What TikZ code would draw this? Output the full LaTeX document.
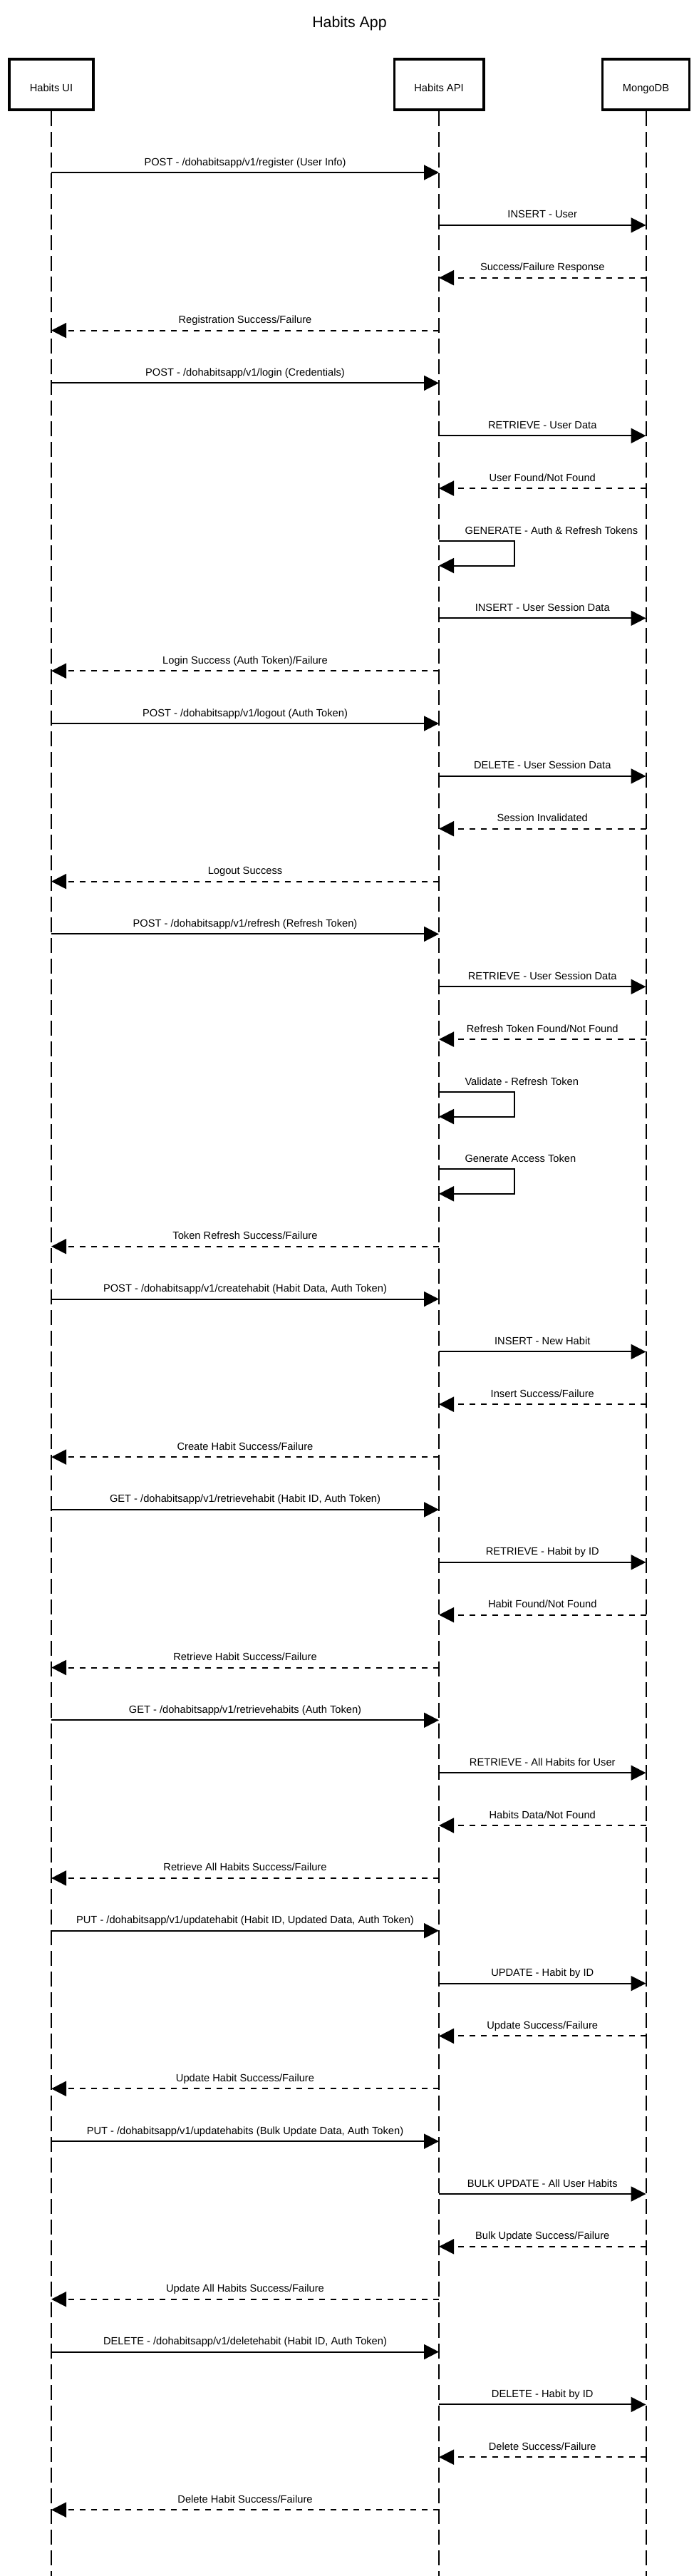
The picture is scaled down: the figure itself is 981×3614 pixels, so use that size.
\documentclass[tikz,border=0pt]{standalone}
\usepackage{fontspec}
\setmainfont{Liberation Sans}
\usetikzlibrary{arrows.meta}
\begin{document}
\begin{tikzpicture}[x=1pt, y=-1pt, every node/.style={font=\fontsize{14.67}{17}\selectfont, inner sep=0pt},
    actor/.style={draw, line width=3.8pt, minimum height=71.6pt, text height=19.5pt, text depth=0pt},
    life/.style={line width=2pt, dash pattern=on 20.7pt off 8.3pt},
    call/.style={line width=2pt, -{Triangle[length=21pt,width=21pt]}},
    reply/.style={call, dash pattern=on 8pt off 8pt},
    lbl/.style={midway, anchor=base, yshift=10pt},
    slbl/.style={anchor=base west, xshift=35.5pt, yshift=10pt}]
  \useasboundingbox (0,0) rectangle (981,3614);
  \node (title) at (490.5,33.3) {\fontsize{21.33}{25}\selectfont Habits App};
  \node[actor, minimum width=118.2pt] (ui) at (72,118.5) {Habits UI};
  \node[actor, minimum width=125.2pt] (api) at (616,118.5) {Habits API};
  \node[actor, minimum width=121.9pt] (db) at (906.5,118.5) {MongoDB};
  \coordinate (uiEnd) at (72,3614);
  \coordinate (apiEnd) at (616,3614);
  \coordinate (dbEnd) at (906.5,3614);
  \draw[life] (ui) -- (uiEnd);
  \draw[life] (api) -- (apiEnd);
  \draw[life] (db) -- (dbEnd);

  \coordinate (m1) at (0,242.0);
  \coordinate (m2) at (0,315.9);
  \coordinate (m3) at (0,389.7);
  \coordinate (m4) at (0,463.6);
  \coordinate (m5) at (0,537.4);
  \coordinate (m6) at (0,611.3);
  \coordinate (m7) at (0,685.1);
  \coordinate (m8) at (0,759.0);
  \coordinate (m8b) at (0,793.5);
  \coordinate (m9) at (0,867.3);
  \coordinate (m10) at (0,941.2);
  \coordinate (m11) at (0,1015.0);
  \coordinate (m12) at (0,1088.9);
  \coordinate (m13) at (0,1162.7);
  \coordinate (m14) at (0,1236.6);
  \coordinate (m15) at (0,1310.4);
  \coordinate (m16) at (0,1384.3);
  \coordinate (m17) at (0,1458.1);
  \coordinate (m18) at (0,1532.0);
  \coordinate (m18b) at (0,1566.5);
  \coordinate (m19) at (0,1640.3);
  \coordinate (m19b) at (0,1674.8);
  \coordinate (m20) at (0,1748.7);
  \coordinate (m21) at (0,1822.5);
  \coordinate (m22) at (0,1896.4);
  \coordinate (m23) at (0,1970.2);
  \coordinate (m24) at (0,2044.1);
  \coordinate (m25) at (0,2117.9);
  \coordinate (m26) at (0,2191.8);
  \coordinate (m27) at (0,2265.6);
  \coordinate (m28) at (0,2339.5);
  \coordinate (m29) at (0,2413.3);
  \coordinate (m30) at (0,2487.2);
  \coordinate (m31) at (0,2561.0);
  \coordinate (m32) at (0,2634.9);
  \coordinate (m33) at (0,2708.7);
  \coordinate (m34) at (0,2782.6);
  \coordinate (m35) at (0,2856.4);
  \coordinate (m36) at (0,2930.3);
  \coordinate (m37) at (0,3004.1);
  \coordinate (m38) at (0,3078.0);
  \coordinate (m39) at (0,3151.8);
  \coordinate (m40) at (0,3225.7);
  \coordinate (m41) at (0,3299.5);
  \coordinate (m42) at (0,3373.4);
  \coordinate (m43) at (0,3447.2);
  \coordinate (m44) at (0,3521.1);

  \draw[call] (ui |- m1) -- (api |- m1) node[lbl] {POST - /dohabitsapp/v1/register (User Info)};
  \draw[call] (api |- m2) -- (db |- m2) node[lbl] {INSERT - User};
  \draw[reply] (db |- m3) -- (api |- m3) node[lbl] {Success/Failure Response};
  \draw[reply] (api |- m4) -- (ui |- m4) node[lbl] {Registration Success/Failure};
  \draw[call] (ui |- m5) -- (api |- m5) node[lbl] {POST - /dohabitsapp/v1/login (Credentials)};
  \draw[call] (api |- m6) -- (db |- m6) node[lbl] {RETRIEVE - User Data};
  \draw[reply] (db |- m7) -- (api |- m7) node[lbl] {User Found/Not Found};
  \draw[call] (api |- m8) node[slbl] {GENERATE - Auth \& Refresh Tokens} -- ++(106,0) |- (api |- m8b);
  \draw[call] (api |- m9) -- (db |- m9) node[lbl] {INSERT - User Session Data};
  \draw[reply] (api |- m10) -- (ui |- m10) node[lbl] {Login Success (Auth Token)/Failure};
  \draw[call] (ui |- m11) -- (api |- m11) node[lbl] {POST - /dohabitsapp/v1/logout (Auth Token)};
  \draw[call] (api |- m12) -- (db |- m12) node[lbl] {DELETE - User Session Data};
  \draw[reply] (db |- m13) -- (api |- m13) node[lbl] {Session Invalidated};
  \draw[reply] (api |- m14) -- (ui |- m14) node[lbl] {Logout Success};
  \draw[call] (ui |- m15) -- (api |- m15) node[lbl] {POST - /dohabitsapp/v1/refresh (Refresh Token)};
  \draw[call] (api |- m16) -- (db |- m16) node[lbl] {RETRIEVE - User Session Data};
  \draw[reply] (db |- m17) -- (api |- m17) node[lbl] {Refresh Token Found/Not Found};
  \draw[call] (api |- m18) node[slbl] {Validate - Refresh Token} -- ++(106,0) |- (api |- m18b);
  \draw[call] (api |- m19) node[slbl] {Generate Access Token} -- ++(106,0) |- (api |- m19b);
  \draw[reply] (api |- m20) -- (ui |- m20) node[lbl] {Token Refresh Success/Failure};
  \draw[call] (ui |- m21) -- (api |- m21) node[lbl] {POST - /dohabitsapp/v1/createhabit (Habit Data, Auth Token)};
  \draw[call] (api |- m22) -- (db |- m22) node[lbl] {INSERT - New Habit};
  \draw[reply] (db |- m23) -- (api |- m23) node[lbl] {Insert Success/Failure};
  \draw[reply] (api |- m24) -- (ui |- m24) node[lbl] {Create Habit Success/Failure};
  \draw[call] (ui |- m25) -- (api |- m25) node[lbl] {GET - /dohabitsapp/v1/retrievehabit (Habit ID, Auth Token)};
  \draw[call] (api |- m26) -- (db |- m26) node[lbl] {RETRIEVE - Habit by ID};
  \draw[reply] (db |- m27) -- (api |- m27) node[lbl] {Habit Found/Not Found};
  \draw[reply] (api |- m28) -- (ui |- m28) node[lbl] {Retrieve Habit Success/Failure};
  \draw[call] (ui |- m29) -- (api |- m29) node[lbl] {GET - /dohabitsapp/v1/retrievehabits (Auth Token)};
  \draw[call] (api |- m30) -- (db |- m30) node[lbl] {RETRIEVE - All Habits for User};
  \draw[reply] (db |- m31) -- (api |- m31) node[lbl] {Habits Data/Not Found};
  \draw[reply] (api |- m32) -- (ui |- m32) node[lbl] {Retrieve All Habits Success/Failure};
  \draw[call] (ui |- m33) -- (api |- m33) node[lbl] {PUT - /dohabitsapp/v1/updatehabit (Habit ID, Updated Data, Auth Token)};
  \draw[call] (api |- m34) -- (db |- m34) node[lbl] {UPDATE - Habit by ID};
  \draw[reply] (db |- m35) -- (api |- m35) node[lbl] {Update Success/Failure};
  \draw[reply] (api |- m36) -- (ui |- m36) node[lbl] {Update Habit Success/Failure};
  \draw[call] (ui |- m37) -- (api |- m37) node[lbl] {PUT - /dohabitsapp/v1/updatehabits (Bulk Update Data, Auth Token)};
  \draw[call] (api |- m38) -- (db |- m38) node[lbl] {BULK UPDATE - All User Habits};
  \draw[reply] (db |- m39) -- (api |- m39) node[lbl] {Bulk Update Success/Failure};
  \draw[reply] (api |- m40) -- (ui |- m40) node[lbl] {Update All Habits Success/Failure};
  \draw[call] (ui |- m41) -- (api |- m41) node[lbl] {DELETE - /dohabitsapp/v1/deletehabit (Habit ID, Auth Token)};
  \draw[call] (api |- m42) -- (db |- m42) node[lbl] {DELETE - Habit by ID};
  \draw[reply] (db |- m43) -- (api |- m43) node[lbl] {Delete Success/Failure};
  \draw[reply] (api |- m44) -- (ui |- m44) node[lbl] {Delete Habit Success/Failure};
\end{tikzpicture}
\end{document}
